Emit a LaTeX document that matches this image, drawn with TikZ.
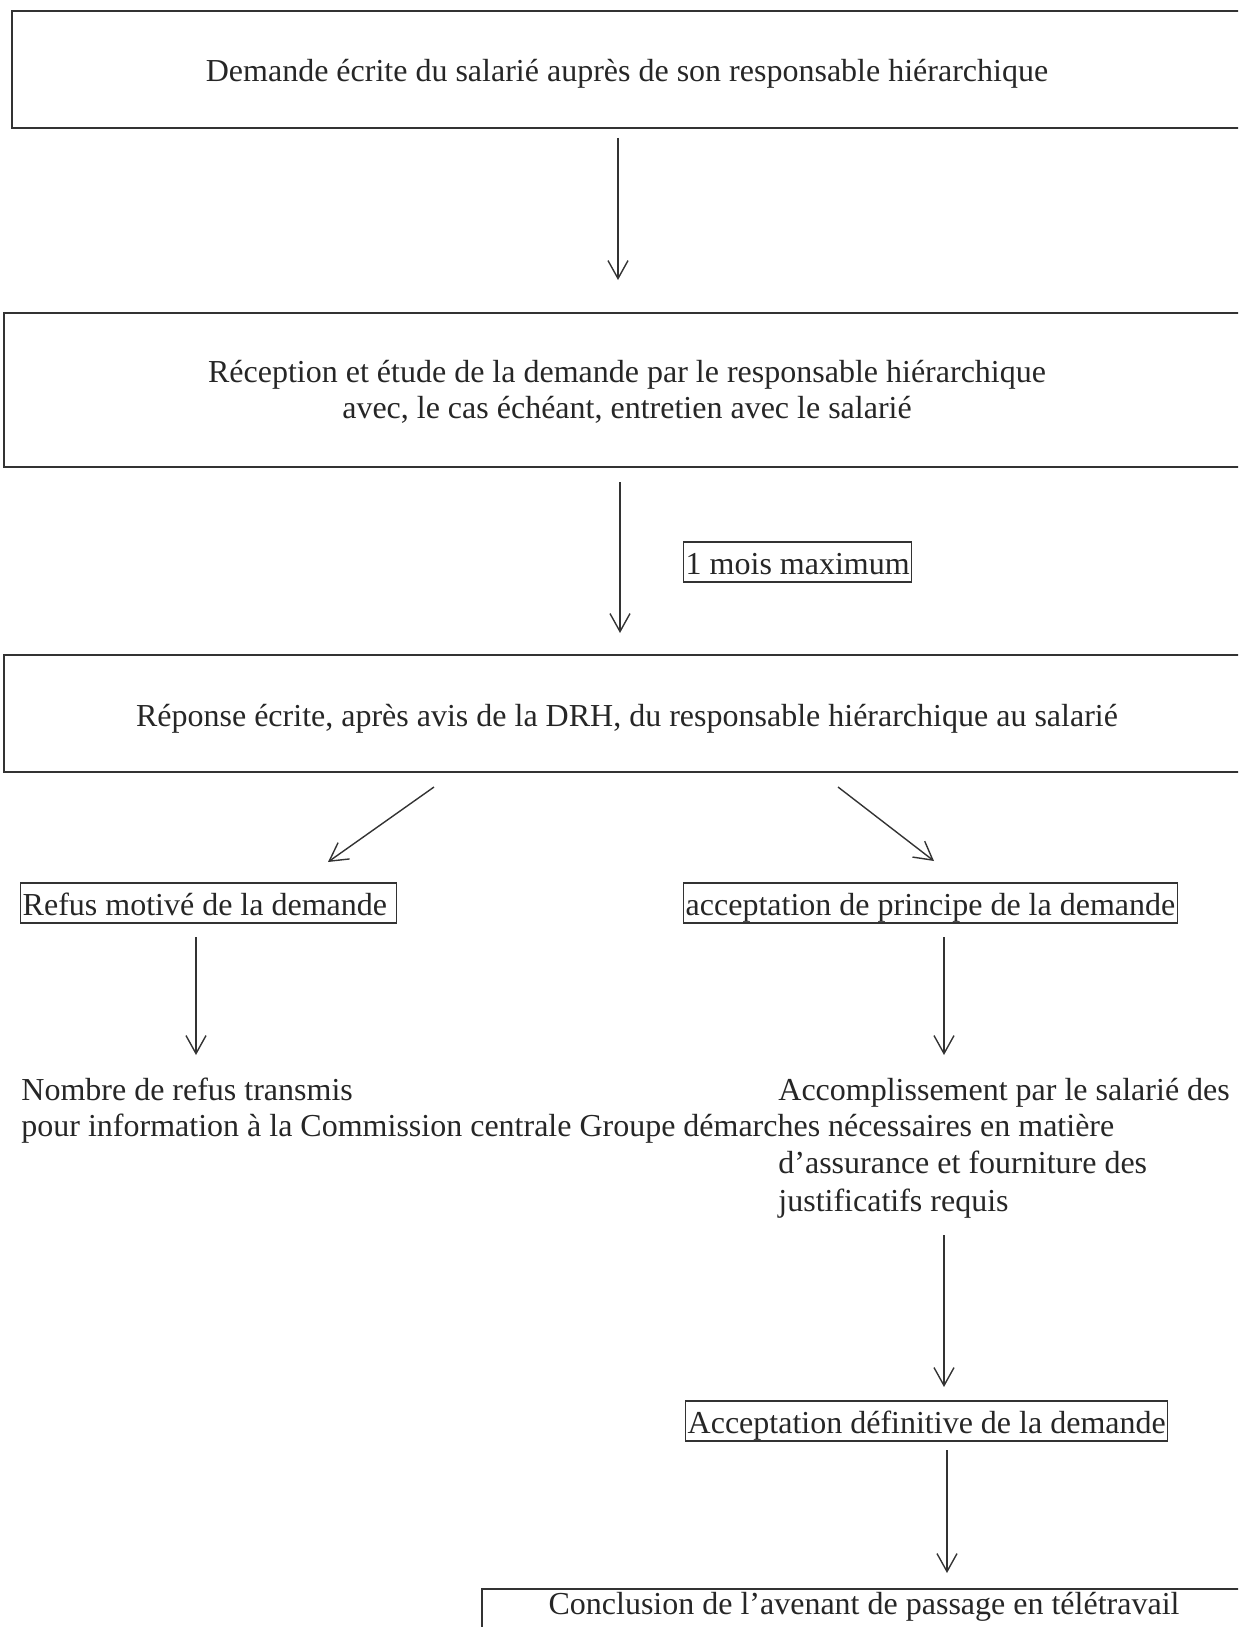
\documentclass[tikz,border=0pt]{standalone}
\usepackage{fontspec}
\setmainfont{Liberation Serif}
\usetikzlibrary{arrows.meta}
\begin{document}
\begin{tikzpicture}[x=0.5pt,y=-0.5pt,
  bigbox/.style={draw=black!80, line width=1pt, rectangle, inner sep=0pt},
  tagbox/.style={draw=black!80, line width=0.7pt, rectangle, inner xsep=1pt, inner ysep=0pt, minimum height=20pt, text height=12pt, text depth=0pt, anchor=west},
  arr/.style={draw=black!80, line width=0.7pt, -{Straight Barb[length=9pt,width=10pt,line width=0.7pt]}},
  txt/.style={font=\fontsize{16}{18}\selectfont, text=black!85},
  ]
\useasboundingbox (0,0) rectangle (1238,1627);
\clip (0,0) rectangle (1238,1627);

% main boxes
\node[bigbox, minimum width=615pt, minimum height=58.5pt] (b1) at (627,69.5) {};
\node[txt, align=center] (b1t) at (627,73.5)
  {Demande écrite du salarié auprès de son responsable hiérarchique};
\node[bigbox, minimum width=623pt, minimum height=77pt] (b2) at (627,390) {};
\node[txt, align=center] (b2t) at (627,392)
  {Réception et étude de la demande par le responsable hiérarchique\\avec, le cas échéant, entretien avec le salarié};
\node[bigbox, minimum width=623pt, minimum height=58.5pt] (b3) at (627,713.5) {};
\node[txt, align=center] (b3t) at (627,718.5)
  {Réponse écrite, après avis de la DRH, du responsable hiérarchique au salarié};

% framed labels
\node[tagbox, txt] (t1) at (683,562) {1 mois maximum};
\node[tagbox, txt] (refus) at (20,903) {Refus motivé de la demande\hspace*{3.6pt}};
\node[tagbox, txt] (accp) at (683,903) {acceptation de principe de la demande};
\node[tagbox, txt] (def) at (685,1421) {Acceptation définitive de la demande};

% free texts
\node[txt, anchor=base west, inner sep=0pt] (nb1) at (21,1100) {Nombre de refus transmis};
\node[txt, anchor=base west, inner sep=0pt] (nb2) at (21,1136) {pour information à la Commission centrale Groupe};
\node[txt, anchor=base west, inner sep=0pt] (ac1) at (778,1100) {Accomplissement par le salarié des};
\node[txt, anchor=base west, inner sep=0pt] (ac2) at (683,1136) {démarches nécessaires en matière};
\node[txt, anchor=base west, inner sep=0pt] (ac3) at (778,1173) {d’assurance et fourniture des};
\node[txt, anchor=base west, inner sep=0pt] (ac4) at (778,1211) {justificatifs requis};

% final box
\node[draw=black!80, line width=1pt, rectangle, inner sep=0pt, minimum width=384.5pt, minimum height=26pt, anchor=north west] (fin) at (481,1588) {};
\node[txt, inner sep=0pt] (fint) at (864,1607) {Conclusion de l’avenant de passage en télétravail};

% connector end points
\coordinate (a1s) at (618,138);  \coordinate (a1e) at (618,280);
\coordinate (a2s) at (620,482);  \coordinate (a2e) at (620,633);
\coordinate (d1s) at (434,787);  \coordinate (d1e) at (328,862);
\coordinate (d2s) at (838,787);  \coordinate (d2e) at (934,861);
\coordinate (l1s) at (196,937);  \coordinate (l1e) at (196,1055);
\coordinate (r1s) at (944,937);  \coordinate (r1e) at (944,1055);
\coordinate (r2s) at (944,1235); \coordinate (r2e) at (944,1387);
\coordinate (r3s) at (947,1450); \coordinate (r3e) at (947,1573);

\draw[arr] (a1s) -- (a1e);
\draw[arr] (a2s) -- (a2e);
\draw[arr] (d1s) -- (d1e);
\draw[arr] (d2s) -- (d2e);
\draw[arr] (l1s) -- (l1e);
\draw[arr] (r1s) -- (r1e);
\draw[arr] (r2s) -- (r2e);
\draw[arr] (r3s) -- (r3e);
\end{tikzpicture}
\end{document}
